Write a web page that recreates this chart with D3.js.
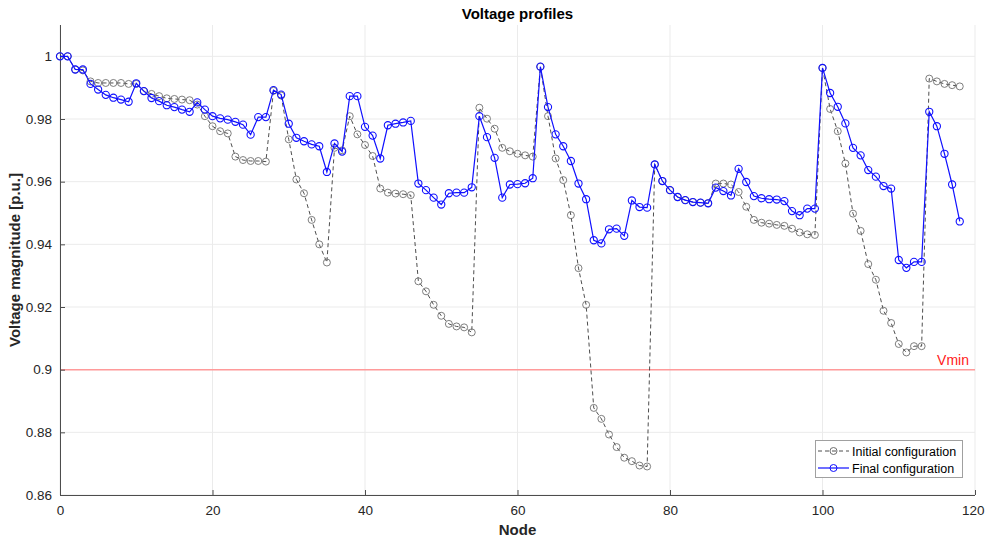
<!DOCTYPE html>
<html>
<head>
<meta charset="utf-8">
<script src="https://cdn.jsdelivr.net/npm/d3@7"></script>
<style>
  html, body { margin: 0; padding: 0; background: #fff; }
  svg { display: block; font-family: "Liberation Sans", Arial, Helvetica, sans-serif; }
</style>
</head>
<body>
<svg id="chart" width="985" height="540"></svg>
<script>
const nodes = d3.range(0, 119);

const initialV = [
  1.0000, 1.0000, 0.9958, 0.9955, 0.9920, 0.9915, 0.9915, 0.9915, 0.9915, 0.9912,
  0.9912, 0.9889, 0.9880, 0.9873, 0.9866, 0.9864, 0.9862, 0.9860, 0.9846, 0.9809,
  0.9777, 0.9761, 0.9754, 0.9680, 0.9669, 0.9666, 0.9666, 0.9664, 0.9890, 0.9875,
  0.9735, 0.9607, 0.9563, 0.9478, 0.9400, 0.9342, 0.9708, 0.9700, 0.9809, 0.9751,
  0.9717, 0.9682, 0.9578, 0.9565, 0.9562, 0.9560, 0.9557, 0.9282, 0.9250, 0.9207,
  0.9172, 0.9146, 0.9138, 0.9135, 0.9119, 0.9836, 0.9801, 0.9769, 0.9708, 0.9697,
  0.9689, 0.9684, 0.9680, 0.9967, 0.9809, 0.9674, 0.9605, 0.9493, 0.9324, 0.9207,
  0.8878, 0.8843, 0.8793, 0.8753, 0.8719, 0.8708, 0.8694, 0.8691, 0.9655, 0.9602,
  0.9573, 0.9551, 0.9541, 0.9535, 0.9533, 0.9531, 0.9594, 0.9594, 0.9591, 0.9567,
  0.9520, 0.9478, 0.9469, 0.9466, 0.9462, 0.9459, 0.9450, 0.9438, 0.9432, 0.9430,
  0.9963, 0.9832, 0.9761, 0.9658, 0.9498, 0.9443, 0.9337, 0.9287, 0.9188, 0.9149,
  0.9082, 0.9055, 0.9075, 0.9075, 0.9929, 0.9920, 0.9912, 0.9908, 0.9904
];

const finalV = [
  1.0000, 1.0000, 0.9958, 0.9958, 0.9912, 0.9894, 0.9877, 0.9868, 0.9862, 0.9855,
  0.9914, 0.9889, 0.9867, 0.9857, 0.9844, 0.9838, 0.9830, 0.9823, 0.9853, 0.9830,
  0.9809, 0.9802, 0.9798, 0.9791, 0.9782, 0.9750, 0.9806, 0.9806, 0.9892, 0.9878,
  0.9785, 0.9740, 0.9729, 0.9719, 0.9713, 0.9631, 0.9722, 0.9696, 0.9873, 0.9873,
  0.9775, 0.9747, 0.9674, 0.9780, 0.9785, 0.9789, 0.9794, 0.9594, 0.9573, 0.9549,
  0.9527, 0.9563, 0.9565, 0.9565, 0.9582, 0.9809, 0.9742, 0.9676, 0.9549, 0.9591,
  0.9592, 0.9595, 0.9611, 0.9967, 0.9838, 0.9751, 0.9713, 0.9666, 0.9594, 0.9544,
  0.9413, 0.9403, 0.9448, 0.9450, 0.9427, 0.9540, 0.9519, 0.9517, 0.9655, 0.9602,
  0.9573, 0.9551, 0.9541, 0.9535, 0.9533, 0.9531, 0.9581, 0.9570, 0.9556, 0.9641,
  0.9599, 0.9554, 0.9547, 0.9544, 0.9543, 0.9538, 0.9506, 0.9493, 0.9514, 0.9514,
  0.9963, 0.9883, 0.9839, 0.9786, 0.9708, 0.9684, 0.9637, 0.9616, 0.9586, 0.9578,
  0.9350, 0.9325, 0.9344, 0.9344, 0.9823, 0.9777, 0.9689, 0.9591, 0.9473
];

const xTicks = [0, 20, 40, 60, 80, 100, 120];
const yTicks = [0.86, 0.88, 0.90, 0.92, 0.94, 0.96, 0.98, 1.00];
const vmin = 0.9;
const seriesNames = ["Initial configuration", "Final configuration"];

const svg = d3.select("#chart");
const L = 60, R = 975, T = 25, B = 495;

const x = d3.scaleLinear().domain([0, 120]).range([L, R]);
const y = d3.scaleLinear().domain([0.86, 1.01]).range([B, T]);

// grid
const grid = svg.append("g");
grid.selectAll("line.gx").data(xTicks).enter().append("line")
  .attr("x1", d => x(d)).attr("x2", d => x(d)).attr("y1", T).attr("y2", B)
  .attr("stroke", "#ebebeb").attr("stroke-width", 1);
grid.selectAll("line.gy").data(yTicks).enter().append("line")
  .attr("x1", L).attr("x2", R).attr("y1", d => y(d)).attr("y2", d => y(d))
  .attr("stroke", "#ebebeb").attr("stroke-width", 1);

// Vmin line
svg.append("line")
  .attr("x1", L).attr("x2", R).attr("y1", y(vmin)).attr("y2", y(vmin))
  .attr("stroke", "#ff9a9a").attr("stroke-width", 1.5);
svg.append("text").attr("x", 969).attr("y", y(vmin) - 5)
  .attr("text-anchor", "end").attr("fill", "#ff1a1a")
  .attr("font-size", 14).text("Vmin");

// axes
const xAxis = d3.axisBottom(x).tickValues(xTicks).tickSize(-5).tickPadding(10)
  .tickFormat(d3.format("d"));
const gx = svg.append("g").attr("transform", `translate(0,${B})`).call(xAxis);
const yAxis = d3.axisLeft(y).tickValues(yTicks).tickSize(-5).tickPadding(8)
  .tickFormat(d => String(+d.toFixed(2)));
const gy = svg.append("g").attr("transform", `translate(${L},0)`).call(yAxis);

[gx, gy].forEach(g => {
  g.select(".domain").attr("stroke", "#4d4d4d").attr("stroke-width", 1);
  g.selectAll(".tick line").attr("stroke", "#4d4d4d");
  g.selectAll(".tick text").attr("fill", "#262626").attr("font-size", 13.5)
    .attr("font-family", "'Liberation Sans', Arial, sans-serif");
});
gx.select(".domain").attr("d", `M${L},0.5H${R}`);
gy.select(".domain").attr("d", `M0.5,${B}V${T}`);
// last x label sits at the figure's right edge: keep it inside the picture
gx.selectAll(".tick text").filter(d => d === 120)
  .attr("text-anchor", "end").attr("dx", 984 - x(120));

// series
const line = d3.line().x((d, i) => x(nodes[i])).y(d => y(d));

svg.append("path").datum(initialV).attr("d", line)
  .attr("fill", "none").attr("stroke", "#3a3a3a").attr("stroke-width", 0.9)
  .attr("stroke-dasharray", "4,3");
svg.append("g").selectAll("circle").data(initialV).enter().append("circle")
  .attr("cx", (d, i) => x(nodes[i])).attr("cy", d => y(d)).attr("r", 3.5)
  .attr("fill", "none").attr("stroke", "#707070").attr("stroke-width", 0.9);

svg.append("path").datum(finalV).attr("d", line)
  .attr("fill", "none").attr("stroke", "#1010ff").attr("stroke-width", 1.2);
svg.append("g").selectAll("circle").data(finalV).enter().append("circle")
  .attr("cx", (d, i) => x(nodes[i])).attr("cy", d => y(d)).attr("r", 3.6)
  .attr("fill", "none").attr("stroke", "#1010ff").attr("stroke-width", 1.1);

// labels
svg.append("text").attr("x", (L + R) / 2).attr("y", 19).attr("text-anchor", "middle")
  .attr("font-weight", "bold").attr("font-size", 15).attr("fill", "#000").text("Voltage profiles");
svg.append("text").attr("x", (L + R) / 2).attr("y", 535).attr("text-anchor", "middle")
  .attr("font-weight", "bold").attr("font-size", 15).attr("fill", "#262626").text("Node");
svg.append("text").attr("transform", `translate(20,${(T + B) / 2}) rotate(-90)`)
  .attr("text-anchor", "middle").attr("font-weight", "bold").attr("font-size", 15)
  .attr("fill", "#262626").text("Voltage magnitude [p.u.]");

// legend
const lg = svg.append("g");
lg.append("rect").attr("x", 815.5).attr("y", 440.5).attr("width", 147).attr("height", 37)
  .attr("fill", "#fff").attr("stroke", "#a0a0a0").attr("stroke-width", 1);
const rows = [
  { name: seriesNames[0], stroke: "#3a3a3a", mk: "#707070", dash: "4,3", w: 0.9 },
  { name: seriesNames[1], stroke: "#1010ff", mk: "#1010ff", dash: null, w: 1.2 }
];
rows.forEach((r, i) => {
  const yy = 451 + i * 17;
  lg.append("line").attr("x1", 818).attr("x2", 849).attr("y1", yy).attr("y2", yy)
    .attr("stroke", r.stroke).attr("stroke-width", r.w).attr("stroke-dasharray", r.dash);
  lg.append("circle").attr("cx", 833.5).attr("cy", yy).attr("r", 3.5)
    .attr("fill", "none").attr("stroke", r.mk).attr("stroke-width", 1);
  lg.append("text").attr("x", 852).attr("y", yy + 4.5).attr("font-size", 12.5)
    .attr("fill", "#000").text(r.name);
});
</script>
</body>
</html>
